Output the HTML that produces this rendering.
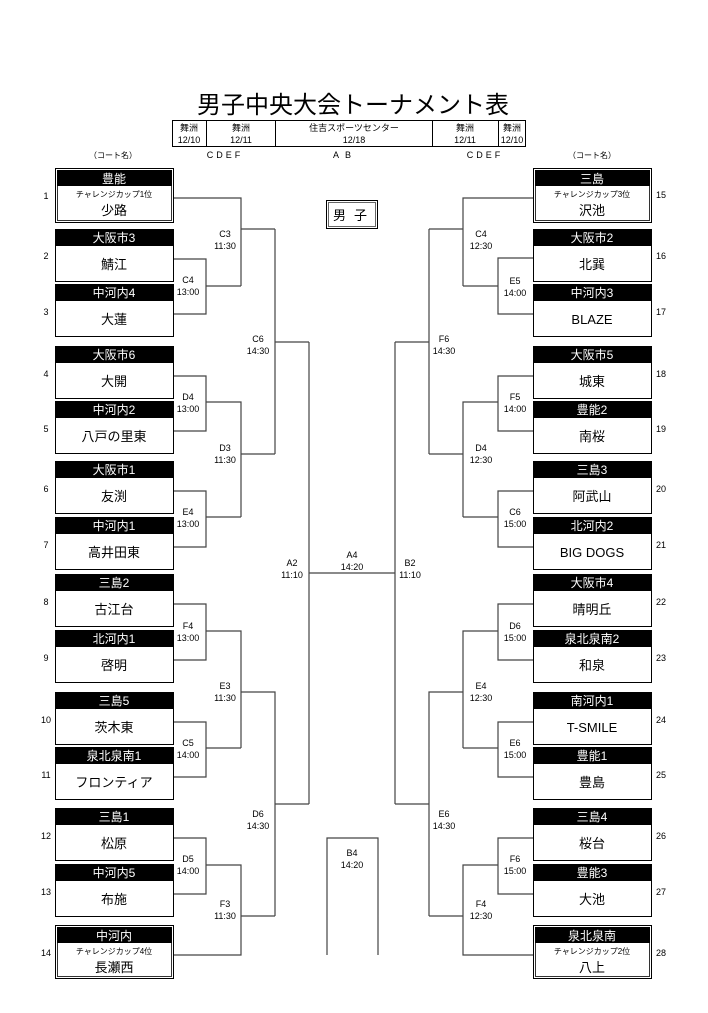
<!DOCTYPE html>
<html><head><meta charset="utf-8"><style>
html,body{margin:0;padding:0;background:#fff;}
svg{display:block;font-family:"Liberation Sans","Noto Sans CJK JP",sans-serif;}
.h{fill:#fff;font-size:12px;text-anchor:middle;}
.n{fill:#000;font-size:13px;text-anchor:middle;}
.s{fill:#000;font-size:8px;text-anchor:middle;}
.l{fill:#000;font-size:9px;text-anchor:middle;}
.num{fill:#000;font-size:9px;text-anchor:middle;}
.ln{fill:none;stroke:#444;stroke-width:1.2;}
</style></head><body>
<svg width="708" height="1013" viewBox="0 0 708 1013" xmlns="http://www.w3.org/2000/svg">
<text x="353" y="113" font-size="24" text-anchor="middle">男子中央大会トーナメント表</text>
<g fill="none" stroke="#000" stroke-width="1">
<rect x="172.5" y="120.5" width="353" height="26"/>
<line x1="206.5" y1="120" x2="206.5" y2="147"/><line x1="275.5" y1="120" x2="275.5" y2="147"/>
<line x1="432.5" y1="120" x2="432.5" y2="147"/><line x1="498.5" y1="120" x2="498.5" y2="147"/>
</g>
<g class="l">
<text x="189" y="131">舞洲</text><text x="189" y="143">12/10</text>
<text x="241" y="131">舞洲</text><text x="241" y="143">12/11</text>
<text x="354" y="131">住吉スポーツセンター</text><text x="354" y="143">12/18</text>
<text x="465" y="131">舞洲</text><text x="465" y="143">12/11</text>
<text x="512" y="131">舞洲</text><text x="512" y="143">12/10</text>
<text x="225" y="158" letter-spacing="3">CDEF</text>
<text x="345" y="158" letter-spacing="6">AB</text>
<text x="485" y="158" letter-spacing="3">CDEF</text>
<text x="113" y="158" font-size="8">（コート名）</text>
<text x="592" y="158" font-size="8">（コート名）</text>
</g>
<rect x="326.5" y="200.5" width="51" height="28" fill="none" stroke="#000"/>
<rect x="328.5" y="202.5" width="47" height="24" fill="none" stroke="#000" stroke-width="0.6"/>
<text x="354" y="220" font-size="13" text-anchor="middle" letter-spacing="8">男子</text>

<path class="ln" d="M173 198H241V286 M173 259H206V314H173 M206 286H241 M241 229H275 M173 376H206V431H173 M206 402H241V517 M173 491H206V547H173 M206 517H241 M241 454H275 M275 229V454 M275 342H309 M173 604H206V660H173 M206 631H241V748 M173 722H206V777H173 M206 748H241 M241 692H275V916 M173 838H206V894H173 M206 865H241V955H173 M241 916H275 M275 804H309 M309 342V804 M309 573H395 M395 342V804 M327 955V838H378V955"/>
<path class="ln" d="M533 198H463V286 M533 258H498V314H533 M498 286H463 M463 229H429 M533 376H498V431H533 M498 402H463V517 M533 491H498V547H533 M498 517H463 M463 454H429 M429 229V454 M429 342H395 M533 604H498V660H533 M498 631H463V748 M533 722H498V777H533 M498 748H463 M463 692H429V916 M533 838H498V894H533 M498 865H463V955H533 M463 916H429 M429 804H395"/>

<g class="l">
<text x="225" y="237">C3</text><text x="225" y="249">11:30</text>
<text x="188" y="283">C4</text><text x="188" y="295">13:00</text>
<text x="258" y="342">C6</text><text x="258" y="354">14:30</text>
<text x="188" y="400">D4</text><text x="188" y="412">13:00</text>
<text x="225" y="451">D3</text><text x="225" y="463">11:30</text>
<text x="188" y="515">E4</text><text x="188" y="527">13:00</text>
<text x="292" y="566">A2</text><text x="292" y="578">11:10</text>
<text x="352" y="558">A4</text><text x="352" y="570">14:20</text>
<text x="410" y="566">B2</text><text x="410" y="578">11:10</text>
<text x="188" y="629">F4</text><text x="188" y="641">13:00</text>
<text x="225" y="689">E3</text><text x="225" y="701">11:30</text>
<text x="188" y="746">C5</text><text x="188" y="758">14:00</text>
<text x="258" y="817">D6</text><text x="258" y="829">14:30</text>
<text x="352" y="856">B4</text><text x="352" y="868">14:20</text>
<text x="188" y="862">D5</text><text x="188" y="874">14:00</text>
<text x="225" y="907">F3</text><text x="225" y="919">11:30</text>

<text x="481" y="237">C4</text><text x="481" y="249">12:30</text>
<text x="515" y="284">E5</text><text x="515" y="296">14:00</text>
<text x="444" y="342">F6</text><text x="444" y="354">14:30</text>
<text x="515" y="400">F5</text><text x="515" y="412">14:00</text>
<text x="481" y="451">D4</text><text x="481" y="463">12:30</text>
<text x="515" y="515">C6</text><text x="515" y="527">15:00</text>
<text x="515" y="629">D6</text><text x="515" y="641">15:00</text>
<text x="481" y="689">E4</text><text x="481" y="701">12:30</text>
<text x="515" y="746">E6</text><text x="515" y="758">15:00</text>
<text x="444" y="817">E6</text><text x="444" y="829">14:30</text>
<text x="515" y="862">F6</text><text x="515" y="874">15:00</text>
<text x="481" y="907">F4</text><text x="481" y="919">12:30</text>
</g>

<g stroke="#000" fill="none">
<rect x="55.5" y="168.5" width="118" height="54"/><rect x="57.5" y="170.5" width="114" height="50" stroke-width="0.8"/>
<rect x="55.5" y="925.5" width="118" height="53"/><rect x="57.5" y="927.5" width="114" height="49" stroke-width="0.8"/>
<rect x="533.5" y="168.5" width="118" height="54"/><rect x="535.5" y="170.5" width="114" height="50" stroke-width="0.8"/>
<rect x="533.5" y="925.5" width="118" height="53"/><rect x="535.5" y="927.5" width="114" height="49" stroke-width="0.8"/>
</g>
<rect x="57" y="170" width="115" height="16" fill="#000"/>
<rect x="57" y="927" width="115" height="16" fill="#000"/>
<rect x="535" y="170" width="115" height="16" fill="#000"/>
<rect x="535" y="927" width="115" height="16" fill="#000"/>
<text class="h" x="114" y="183">豊能</text><text class="s" x="114" y="197">チャレンジカップ1位</text><text class="n" x="114" y="215">少路</text>
<text class="h" x="114" y="940">中河内</text><text class="s" x="114" y="954">チャレンジカップ4位</text><text class="n" x="114" y="972">長瀬西</text>
<text class="h" x="592" y="183">三島</text><text class="s" x="592" y="197">チャレンジカップ3位</text><text class="n" x="592" y="215">沢池</text>
<text class="h" x="592" y="940">泉北泉南</text><text class="s" x="592" y="954">チャレンジカップ2位</text><text class="n" x="592" y="972">八上</text>

<g stroke="#000" fill="#fff">
<rect x="55.5" y="229.5" width="118" height="52"/><rect x="55.5" y="284.5" width="118" height="52"/>
<rect x="55.5" y="346.5" width="118" height="52"/><rect x="55.5" y="401.5" width="118" height="52"/>
<rect x="55.5" y="461.5" width="118" height="52"/><rect x="55.5" y="517.5" width="118" height="52"/>
<rect x="55.5" y="574.5" width="118" height="52"/><rect x="55.5" y="630.5" width="118" height="52"/>
<rect x="55.5" y="692.5" width="118" height="52"/><rect x="55.5" y="747.5" width="118" height="52"/>
<rect x="55.5" y="808.5" width="118" height="52"/><rect x="55.5" y="864.5" width="118" height="52"/>
<rect x="533.5" y="229.5" width="118" height="52"/><rect x="533.5" y="284.5" width="118" height="52"/>
<rect x="533.5" y="346.5" width="118" height="52"/><rect x="533.5" y="401.5" width="118" height="52"/>
<rect x="533.5" y="461.5" width="118" height="52"/><rect x="533.5" y="517.5" width="118" height="52"/>
<rect x="533.5" y="574.5" width="118" height="52"/><rect x="533.5" y="630.5" width="118" height="52"/>
<rect x="533.5" y="692.5" width="118" height="52"/><rect x="533.5" y="747.5" width="118" height="52"/>
<rect x="533.5" y="808.5" width="118" height="52"/><rect x="533.5" y="864.5" width="118" height="52"/>
</g>
<g fill="#000">
<rect x="55" y="229" width="119" height="17"/><rect x="55" y="284" width="119" height="17"/>
<rect x="55" y="346" width="119" height="17"/><rect x="55" y="401" width="119" height="17"/>
<rect x="55" y="461" width="119" height="17"/><rect x="55" y="517" width="119" height="17"/>
<rect x="55" y="574" width="119" height="17"/><rect x="55" y="630" width="119" height="17"/>
<rect x="55" y="692" width="119" height="17"/><rect x="55" y="747" width="119" height="17"/>
<rect x="55" y="808" width="119" height="17"/><rect x="55" y="864" width="119" height="17"/>
<rect x="533" y="229" width="119" height="17"/><rect x="533" y="284" width="119" height="17"/>
<rect x="533" y="346" width="119" height="17"/><rect x="533" y="401" width="119" height="17"/>
<rect x="533" y="461" width="119" height="17"/><rect x="533" y="517" width="119" height="17"/>
<rect x="533" y="574" width="119" height="17"/><rect x="533" y="630" width="119" height="17"/>
<rect x="533" y="692" width="119" height="17"/><rect x="533" y="747" width="119" height="17"/>
<rect x="533" y="808" width="119" height="17"/><rect x="533" y="864" width="119" height="17"/>
</g>
<text class="h" x="114" y="242">大阪市3</text><text class="n" x="114" y="269">鯖江</text>
<text class="h" x="114" y="297">中河内4</text><text class="n" x="114" y="324">大蓮</text>
<text class="h" x="114" y="359">大阪市6</text><text class="n" x="114" y="386">大開</text>
<text class="h" x="114" y="414">中河内2</text><text class="n" x="114" y="441">八戸の里東</text>
<text class="h" x="114" y="474">大阪市1</text><text class="n" x="114" y="501">友渕</text>
<text class="h" x="114" y="530">中河内1</text><text class="n" x="114" y="557">高井田東</text>
<text class="h" x="114" y="587">三島2</text><text class="n" x="114" y="614">古江台</text>
<text class="h" x="114" y="643">北河内1</text><text class="n" x="114" y="670">啓明</text>
<text class="h" x="114" y="705">三島5</text><text class="n" x="114" y="732">茨木東</text>
<text class="h" x="114" y="760">泉北泉南1</text><text class="n" x="114" y="787">フロンティア</text>
<text class="h" x="114" y="821">三島1</text><text class="n" x="114" y="848">松原</text>
<text class="h" x="114" y="877">中河内5</text><text class="n" x="114" y="904">布施</text>

<text class="h" x="592" y="242">大阪市2</text><text class="n" x="592" y="269">北巽</text>
<text class="h" x="592" y="297">中河内3</text><text class="n" x="592" y="324">BLAZE</text>
<text class="h" x="592" y="359">大阪市5</text><text class="n" x="592" y="386">城東</text>
<text class="h" x="592" y="414">豊能2</text><text class="n" x="592" y="441">南桜</text>
<text class="h" x="592" y="474">三島3</text><text class="n" x="592" y="501">阿武山</text>
<text class="h" x="592" y="530">北河内2</text><text class="n" x="592" y="557">BIG DOGS</text>
<text class="h" x="592" y="587">大阪市4</text><text class="n" x="592" y="614">晴明丘</text>
<text class="h" x="592" y="643">泉北泉南2</text><text class="n" x="592" y="670">和泉</text>
<text class="h" x="592" y="705">南河内1</text><text class="n" x="592" y="732">T-SMILE</text>
<text class="h" x="592" y="760">豊能1</text><text class="n" x="592" y="787">豊島</text>
<text class="h" x="592" y="821">三島4</text><text class="n" x="592" y="848">桜台</text>
<text class="h" x="592" y="877">豊能3</text><text class="n" x="592" y="904">大池</text>

<g class="num">
<text x="46" y="199">1</text><text x="46" y="259">2</text><text x="46" y="315">3</text><text x="46" y="377">4</text>
<text x="46" y="432">5</text><text x="46" y="492">6</text><text x="46" y="548">7</text><text x="46" y="605">8</text>
<text x="46" y="661">9</text><text x="46" y="723">10</text><text x="46" y="778">11</text><text x="46" y="839">12</text>
<text x="46" y="895">13</text><text x="46" y="956">14</text>
<text x="661" y="198">15</text><text x="661" y="259">16</text><text x="661" y="315">17</text><text x="661" y="377">18</text>
<text x="661" y="432">19</text><text x="661" y="492">20</text><text x="661" y="548">21</text><text x="661" y="605">22</text>
<text x="661" y="661">23</text><text x="661" y="723">24</text><text x="661" y="778">25</text><text x="661" y="839">26</text>
<text x="661" y="895">27</text><text x="661" y="956">28</text>
</g>
</svg>
</body></html>
